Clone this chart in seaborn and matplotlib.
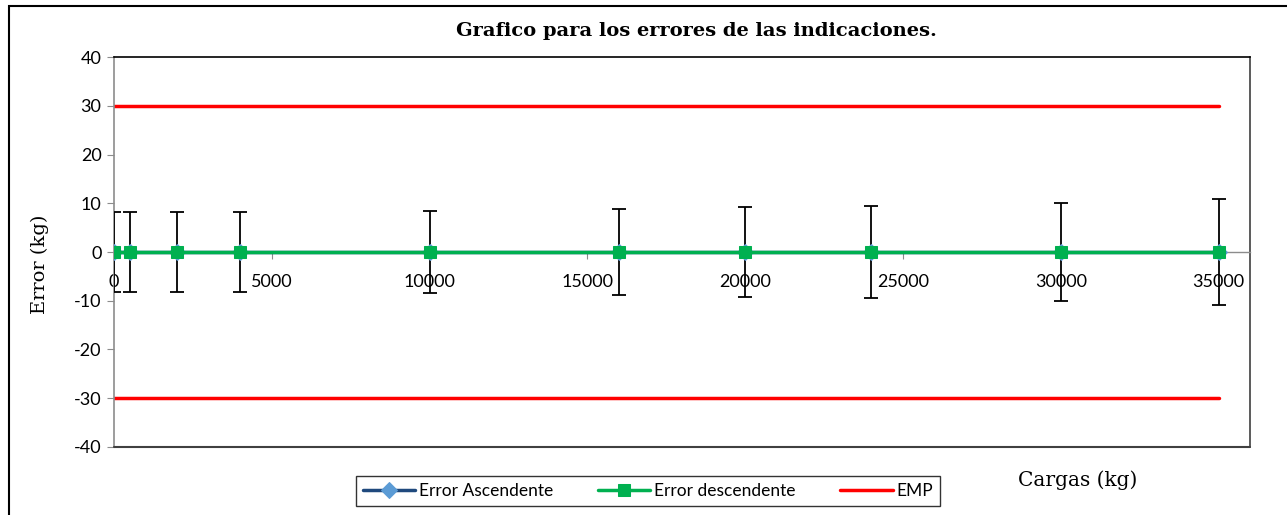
import matplotlib
matplotlib.use("Agg")
import matplotlib.pyplot as plt
import seaborn as sns
import pandas as pd
import numpy as np

# data
cargas = [0, 500, 2000, 4000, 10000, 16000, 20000, 24000, 30000, 35000]
error_asc = [0, 0, 0, 0, 0, 0, 0, 0, 0, 0]
error_desc = [0, 0, 0, 0, 0, 0, 0, 0, 0, 0]
incertidumbre = [8.3, 8.3, 8.3, 8.3, 8.5, 8.9, 9.2, 9.5, 10.1, 10.8]
emp = 30

sns.set_style("white")
plt.rcParams['font.family'] = ['Lato', 'DejaVu Sans']
plt.rcParams['axes.unicode_minus'] = False
plt.rcParams['text.color'] = 'black'
plt.rcParams['xtick.labelcolor'] = 'black'
plt.rcParams['ytick.labelcolor'] = 'black'

fig = plt.figure(figsize=(12.87, 5.15), dpi=100)
ax = fig.add_axes([0.0886, 0.1326, 0.8827, 0.7561])

df = pd.DataFrame({"carga": cargas, "asc": error_asc, "desc": error_desc,
                   "emp_pos": [emp] * len(cargas), "emp_neg": [-emp] * len(cargas)})

# EMP limits
sns.lineplot(data=df, x="carga", y="emp_pos", ax=ax, color="#FF0000", linewidth=2.5, label="EMP", zorder=2)
sns.lineplot(data=df, x="carga", y="emp_neg", ax=ax, color="#FF0000", linewidth=2.5, zorder=2)

# error bars (uncertainty)
ax.errorbar(cargas, error_asc, yerr=incertidumbre, fmt="none", ecolor="black",
            elinewidth=1.3, capsize=5, capthick=1.3, zorder=3)

sns.lineplot(data=df, x="carga", y="asc", ax=ax, color="#1F497D", linewidth=2.5,
             marker="D", markersize=8, markerfacecolor="#5B9BD5", markeredgecolor="#5B9BD5",
             label="Error Ascendente", zorder=4)
sns.lineplot(data=df, x="carga", y="desc", ax=ax, color="#00B050", linewidth=2.5,
             marker="s", markersize=9, markerfacecolor="#00B050", markeredgecolor="#00B050",
             label="Error descendente", zorder=5)

ax.set_xlim(0, 36000)
ax.set_ylim(-40, 40)
ax.set_yticks(np.arange(-40, 41, 10))
ax.set_xticks(np.arange(0, 35001, 5000))

# x axis crosses at zero
ax.spines['bottom'].set_position(('data', 0))
ax.spines['bottom'].set_color('#8C8C8C')
ax.spines['bottom'].set_linewidth(1)
ax.spines['left'].set_color('#8C8C8C')
ax.spines['left'].set_linewidth(1.2)
ax.spines['top'].set_color('black')
ax.spines['top'].set_linewidth(1.2)
ax.spines['right'].set_color('#404040')
ax.spines['right'].set_linewidth(1.2)
ax.plot([0, 1], [0, 0], transform=ax.transAxes, color='#404040', linewidth=1.5, clip_on=False, zorder=6)

ax.tick_params(axis='y', direction='out', length=5, color='#8C8C8C', labelsize=13, pad=4, left=True)
ax.tick_params(axis='x', direction='out', length=5, color='#8C8C8C', labelsize=13, pad=11, bottom=True)
ax.set_xlabel("")
ax.set_ylabel("")

fig.text(0.031, 0.487, "Error (kg)", rotation=90, ha='center', va='center',
         fontsize=14, family=['DejaVu Serif'])
fig.text(0.8376, 0.068, "Cargas (kg)", ha='center', va='center',
         fontsize=14.5, family=['DejaVu Serif'])
fig.text(0.541, 0.94, "Grafico para los errores de las indicaciones.", ha='center', va='center',
         fontsize=14, fontweight='heavy', family=['DejaVu Serif'])

handles, labels = ax.get_legend_handles_labels()
order = [labels.index("Error Ascendente"), labels.index("Error descendente"), labels.index("EMP")]
leg = fig.legend([handles[i] for i in order], [labels[i] for i in order],
                 loc='center', bbox_to_anchor=(0.5035, 0.046), ncol=3, frameon=True,
                 fancybox=False, edgecolor='black', fontsize=12.5, handlelength=3,
                 columnspacing=2.6, handletextpad=0.2, borderpad=0.4)
leg.get_frame().set_linewidth(1)
ax.get_legend().remove()

# outer chart border
fig.patches.append(plt.Rectangle((0.007, -0.1), 1.2, 1.088, transform=fig.transFigure,
                                 fill=False, edgecolor='black', linewidth=1.5))

fig.savefig("out.png", dpi=100)
